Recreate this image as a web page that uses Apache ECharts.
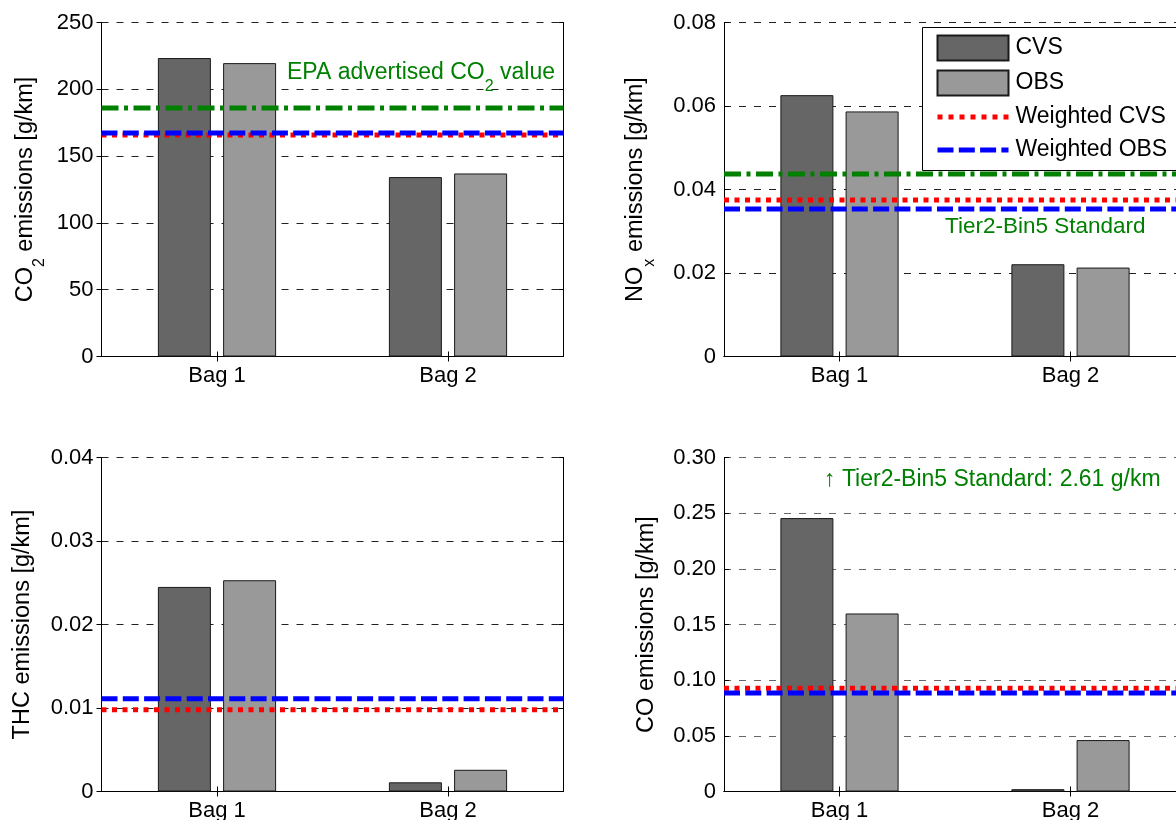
<!DOCTYPE html>
<html><head><meta charset="utf-8">
<script src="https://cdn.jsdelivr.net/npm/echarts@6/dist/echarts.min.js"></script>
<style>html,body{margin:0;padding:0;background:#fff}#c{width:1176px;height:820px}</style>
</head><body><div id="c"></div>
<script>
// ---------- data ----------
const categories = ['Bag 1', 'Bag 2'];
const seriesNames = ['CVS', 'OBS', 'Weighted CVS', 'Weighted OBS'];

const co2CVS = [223.4, 134.3];
const co2OBS = [219.6, 137.0];
const co2WeightedCVS = 165.8;
const co2WeightedOBS = 167.3;
const co2EPA = 186.0;
const co2Ticks = [0, 250, 50];

const noxCVS = [0.0626, 0.0221];
const noxOBS = [0.0587, 0.0213];
const noxWeightedCVS = 0.0375;
const noxWeightedOBS = 0.0353;
const noxStandard = 0.0437;
const noxTicks = [0, 0.08, 0.02];

const thcCVS = [0.0245, 0.0011];
const thcOBS = [0.0253, 0.0026];
const thcWeightedCVS = 0.0098;
const thcWeightedOBS = 0.0111;
const thcTicks = [0, 0.04, 0.01];

const coCVS = [0.2456, 0.0021];
const coOBS = [0.1599, 0.0462];
const coWeightedCVS = 0.0927;
const coWeightedOBS = 0.0884;
const coTicks = [0, 0.30, 0.05];

// ---------- layout / style ----------
const FONT = 'Liberation Sans, Arial, sans-serif';
const FS = 22;      // tick labels
const FT = 23.5;    // axis titles
const FG = 23;      // annotations / legend
const GREEN = '#008000';
const RED = '#ff0000';
const BLUE = '#0000ff';
const panels = [
  {left: 101.5, top: 22.5, cvs: co2CVS, obs: co2OBS, wc: co2WeightedCVS, wo: co2WeightedOBS, std: co2EPA, ticks: co2Ticks,
   name: '{a|CO}{s|2}{a| emissions [g/km]}', nameGap: 64, fmt: v => String(Math.round(v)), grid: '#222', tickInside: false},
  {left: 724, top: 22.5, cvs: noxCVS, obs: noxOBS, wc: noxWeightedCVS, wo: noxWeightedOBS, std: noxStandard, ticks: noxTicks,
   name: '{a|NO}{s|x}{a| emissions [g/km]}', nameGap: 76, fmt: v => v === 0 ? '0' : v.toFixed(2), grid: '#222', tickInside: true},
  {left: 101.5, top: 457.5, cvs: thcCVS, obs: thcOBS, wc: thcWeightedCVS, wo: thcWeightedOBS, std: null, ticks: thcTicks,
   name: '{a|THC emissions [g/km]}', nameGap: 67, fmt: v => v === 0 ? '0' : v.toFixed(2), grid: '#222', tickInside: false},
  {left: 724, top: 457.5, cvs: coCVS, obs: coOBS, wc: coWeightedCVS, wo: coWeightedOBS, std: null, ticks: coTicks,
   name: '{a|CO emissions [g/km]}', nameGap: 65, fmt: v => v === 0 ? '0' : v.toFixed(2), grid: '#666', tickInside: true}
];
const GW = 462, GH = 334;

const grids = [], xAxes = [], yAxes = [], series = [];
const rich = {
  a: {fontSize: FT, lineHeight: 24, verticalAlign: 'top', fontFamily: FONT, color: '#000'},
  s: {fontSize: 16, lineHeight: 16, padding: [18, 0, 0, 0], verticalAlign: 'top', fontFamily: FONT, color: '#000'}
};
const blackLine = {show: true, lineStyle: {color: '#000', width: 1}};

panels.forEach((p, i) => {
  grids.push({left: p.left, top: p.top, width: GW, height: GH, containLabel: false, outerBoundsMode: 'none'});
  const [ymin, ymax, yint] = p.ticks;
  xAxes.push({type: 'category', gridIndex: i, data: categories, position: 'bottom',
    axisLine: blackLine, axisTick: {show: true, inside: true, alignWithLabel: true, length: 5, lineStyle: {color: '#000'}},
    axisLabel: {show: true, color: '#000', fontSize: FS, fontFamily: FONT, margin: 8}, splitLine: {show: false}});
  xAxes.push({type: 'category', gridIndex: i, data: categories, position: 'top',
    axisLine: blackLine, axisTick: {show: true, inside: true, alignWithLabel: true, length: 5, lineStyle: {color: '#000'}},
    axisLabel: {show: false}, splitLine: {show: false}});
  xAxes.push({type: 'value', gridIndex: i, min: 0, max: 1, show: false});
  yAxes.push({type: 'value', gridIndex: i, min: ymin, max: ymax, interval: yint, position: 'left',
    axisLine: blackLine, axisTick: {show: true, inside: p.tickInside, length: 5, lineStyle: {color: '#000'}},
    axisLabel: {color: '#000', fontSize: FS, fontFamily: FONT, margin: 8, formatter: p.fmt},
    splitLine: {show: true, lineStyle: {color: p.grid, width: 1, type: [7, 8]}},
    name: p.name, nameLocation: 'middle', nameGap: p.nameGap, nameRotate: 90,
    nameTextStyle: {fontSize: FT, fontFamily: FONT, color: '#000', rich: rich}});
  yAxes.push({type: 'value', gridIndex: i, min: ymin, max: ymax, interval: yint, position: 'right',
    axisLine: blackLine, axisTick: {show: true, inside: true, length: 5, lineStyle: {color: '#000'}},
    axisLabel: {show: false}, splitLine: {show: false}});

  const xb = 3 * i, xv = 3 * i + 2, yl = 2 * i;
  series.push({type: 'bar', name: 'CVS', xAxisIndex: xb, yAxisIndex: yl, data: p.cvs, barWidth: 53, barGap: '23%',
    itemStyle: {color: '#666666', borderColor: '#1a1a1a', borderWidth: 1}, animation: false, silent: true});
  series.push({type: 'bar', name: 'OBS', xAxisIndex: xb, yAxisIndex: yl, data: p.obs, barWidth: 53, barGap: '23%',
    itemStyle: {color: '#999999', borderColor: '#1a1a1a', borderWidth: 1}, animation: false, silent: true});
  if (p.std !== null) {
    series.push({type: 'line', name: 'Standard', xAxisIndex: xv, yAxisIndex: yl, data: [[0, p.std], [1, p.std]],
      symbol: 'none', z: 3, itemStyle: {color: GREEN},
      lineStyle: {color: GREEN, width: 5, type: [17, 5.5, 4, 5.5], cap: 'butt'}, animation: false, silent: true});
  }
  series.push({type: 'line', name: 'Weighted CVS', xAxisIndex: xv, yAxisIndex: yl, data: [[0, p.wc], [1, p.wc]],
    symbol: 'none', z: 3, itemStyle: {color: RED},
    lineStyle: {color: RED, width: 5, type: [5, 5.5], cap: 'butt'}, animation: false, silent: true});
  series.push({type: 'line', name: 'Weighted OBS', xAxisIndex: xv, yAxisIndex: yl, data: [[0, p.wo], [1, p.wo]],
    symbol: 'none', z: 3, itemStyle: {color: BLUE},
    lineStyle: {color: BLUE, width: 5, type: [16, 5.3], cap: 'butt'}, animation: false, silent: true});
});

// legend icons for the reference lines (dotted / dashed samples)
const dottedIcon = 'path://M0,0h5v5h-5z M11,0h5v5h-5z M22,0h5v5h-5z M33,0h5v5h-5z M44,0h5v5h-5z M55,0h5v5h-5z M66,0h5v5h-5z';
const dashedIcon = 'path://M0,0h16v5h-16z M21.3,0h16v5h-16z M42.6,0h16v5h-16z M63.9,0h7.1v5h-7.1z';

const grich = {
  a: {fontSize: FG, lineHeight: 23, verticalAlign: 'top', fontFamily: FONT},
  s: {fontSize: 16, lineHeight: 16, padding: [17, 0, 0, 0], verticalAlign: 'top', fontFamily: FONT}
};

const option = {
  backgroundColor: '#fff',
  animation: false,
  grid: grids,
  xAxis: xAxes,
  yAxis: yAxes,
  series: series,
  legend: {
    show: true, selectedMode: false, orient: 'vertical', left: 922.5, top: 27.5,
    data: [{name: 'CVS', icon: 'rect'}, {name: 'OBS', icon: 'rect'},
           {name: 'Weighted CVS', icon: dottedIcon}, {name: 'Weighted OBS', icon: dashedIcon}],
    itemWidth: 71, itemHeight: 25, itemGap: 8, padding: [7, 14, 8, 14], symbolKeepAspect: true,
    backgroundColor: '#fff', borderColor: '#000', borderWidth: 1, borderRadius: 0, z: 10,
    textStyle: {fontSize: FG, fontFamily: FONT, color: '#000', lineHeight: 25, padding: [0, 0, 0, 2]}
  },
  graphic: [
    {type: 'text', left: 287, top: 61.5, z: 20, silent: true,
     style: {text: '{a|EPA advertised CO}{s|2}{a| value}', rich: grich, fill: GREEN, fontFamily: FONT, fontSize: FG}},
    {type: 'text', left: 945, top: 215.5, z: 20, silent: true,
     style: {text: 'Tier2-Bin5 Standard', fill: GREEN, fontFamily: FONT, fontSize: 22.5}},
    {type: 'text', left: 824, top: 468.5, z: 20, silent: true,
     style: {text: '\u2191 Tier2-Bin5 Standard: 2.61 g/km', fill: GREEN, fontFamily: FONT, fontSize: FG}}
  ]
};

const chart = echarts.init(document.getElementById('c'), null, {renderer: 'canvas'});
chart.setOption(option);
</script>
</body></html>
